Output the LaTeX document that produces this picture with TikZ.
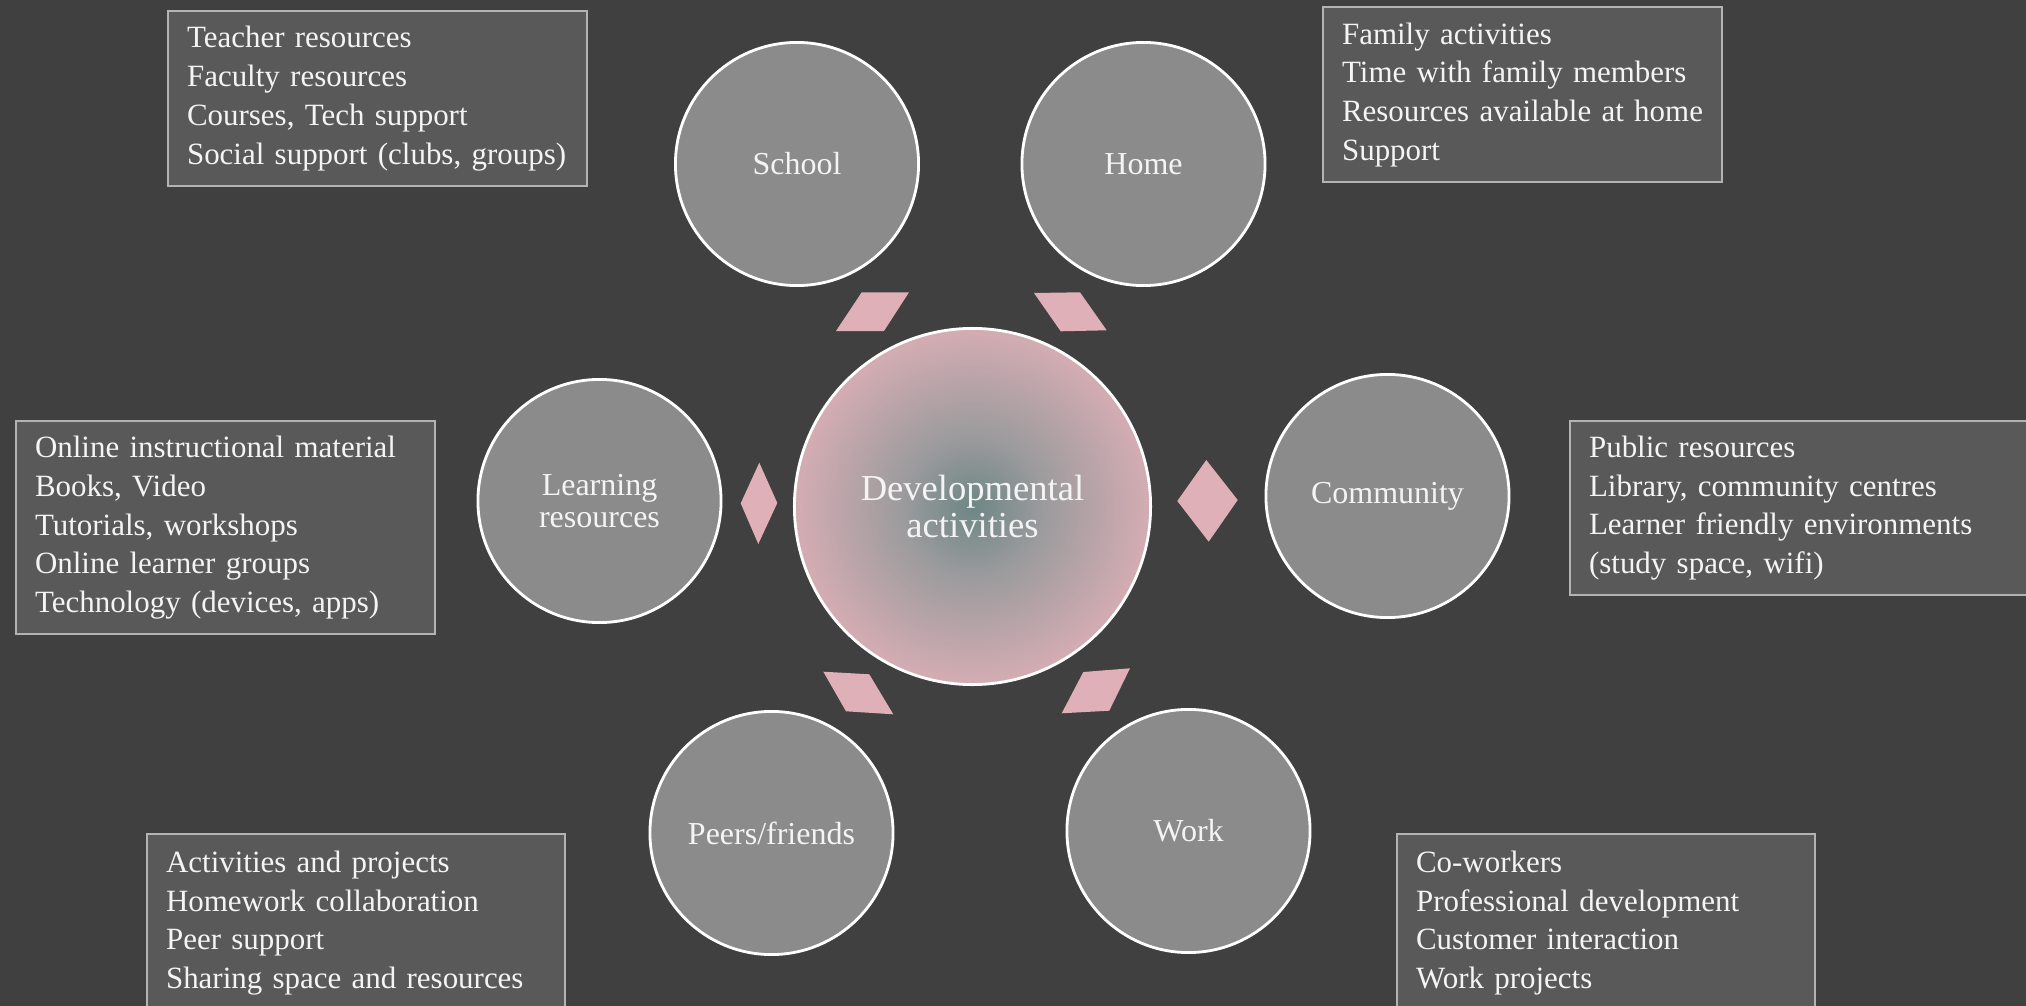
\documentclass[tikz,border=0pt]{standalone}
\usepackage{fontspec}
\setmainfont{Liberation Serif}
\usepackage{tikz}

\definecolor{slate}{HTML}{404040}
\definecolor{discfill}{HTML}{8B8B8B}
\definecolor{panelfill}{HTML}{595959}
\definecolor{panelline}{HTML}{B3B3B3}
\definecolor{blush}{HTML}{DFB0B8}
\definecolor{paper}{HTML}{F4F4F4}
\definecolor{hubteal}{HTML}{6E8686}
\definecolor{hubgray}{HTML}{9C9B9D}
\definecolor{hubpink}{HTML}{DCAFB6}

\pgfdeclareradialshading{hubshade}{\pgfpoint{0bp}{0bp}}{%
  color(0bp)=(hubteal); color(10bp)=(hubgray); color(27bp)=(hubpink); color(50bp)=(hubpink)}

\begin{document}
\begin{tikzpicture}[
  x=0.01cm, y=-0.01cm,
  hub/.style={circle,draw=white,line width=0.8pt,shading=hubshade,minimum size=3.56cm,
    inner sep=0pt,align=center,text=paper,font=\fontsize{10.4}{10.7}\selectfont},
  disc/.style={circle,draw=white,line width=0.8pt,fill=discfill,minimum size=2.43cm,
    inner sep=0pt,align=center,text=paper,font=\fontsize{9.1}{9.2}\selectfont},
  panel/.style={rectangle,draw=panelline,fill=panelfill,line width=0.6pt,anchor=north west,
    inner xsep=0.19cm,inner ysep=0pt,text width=#1,align=left,text=paper,
    font=\fontsize{8.8}{11}\selectfont},
  link/.style={fill=blush}
]
\useasboundingbox (0,0) rectangle (2026,1006);
\clip (0,0) rectangle (2026,1006);
\fill[slate] (0,0) rectangle (2026,1006);

% centre and outer circles
\node[hub] (dev) at (972.5,506.5) {Developmental\\activities};
\node[disc] (school) at (797,164) {School};
\node[disc] (home) at (1143.5,164) {Home};
\node[disc] (learn) at (599.5,501) {Learning\\resources};
\node[disc] (comm) at (1387.5,496) {Community};
\node[disc] (peers) at (771.5,833) {Peers/friends};
\node[disc] (work) at (1188.5,831) {Work};

% pink links between the hub and the circles
\fill[link] (861.7,292.3) -- (909,292.3) -- (884,331) -- (836,331) -- cycle;
\fill[link] (1034,293) -- (1080,292.3) -- (1106.7,330.3) -- (1060.7,331.3) -- cycle;
\fill[link] (759.3,462.7) -- (777.3,503) -- (758.3,544) -- (740.7,503.3) -- cycle;
\fill[link] (1206.3,460) -- (1237.7,500) -- (1208.7,541.7) -- (1177.3,501) -- cycle;
\fill[link] (823.3,671.7) -- (869.3,674.3) -- (893.3,714.3) -- (846,711.3) -- cycle;
\fill[link] (1083.3,672) -- (1130,668.3) -- (1109.3,710.7) -- (1061.7,713.3) -- cycle;

% text panels
\node[panel=3.81cm,minimum height=1.75cm] (schoolbox) at (167,10)
  {Teacher resources\\Faculty resources\\Courses, Tech support\\Social support (clubs, groups)};
\node[panel=3.61cm,minimum height=1.75cm] (homebox) at (1322,6)
  {Family activities\\Time with family members\\Resources available at home\\Support};
\node[panel=3.81cm,minimum height=2.13cm] (learnbox) at (15,420)
  {Online instructional material\\Books, Video\\Tutorials, workshops\\Online learner groups\\Technology (devices, apps)};
\node[panel=4.4cm,minimum height=1.74cm] (commbox) at (1569,420)
  {Public resources\\Library, community centres\\Learner friendly environments\\(study space, wifi)};
\node[panel=3.80cm,minimum height=1.78cm] (peersbox) at (146,833)
  {Activities and projects\\Homework collaboration\\Peer support\\Sharing space and resources};
\node[panel=3.80cm,minimum height=1.78cm] (workbox) at (1396,833)
  {Co-workers\\Professional development\\Customer interaction\\Work projects};
\end{tikzpicture}
\end{document}
